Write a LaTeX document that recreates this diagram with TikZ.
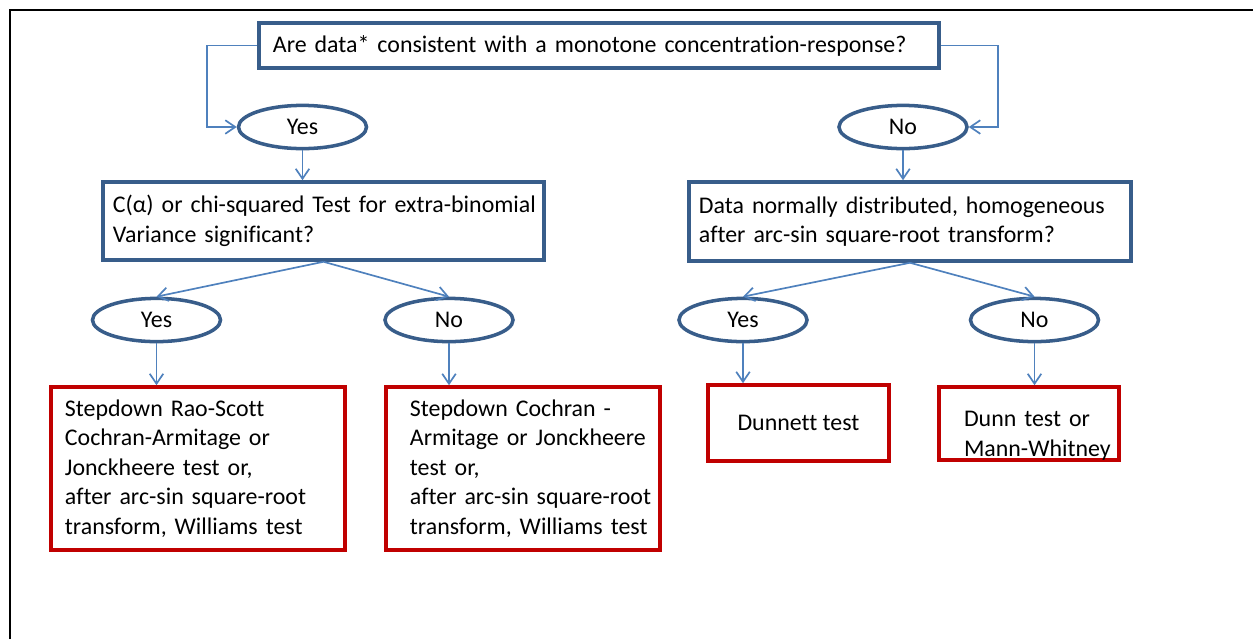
\documentclass[tikz,border=0pt]{standalone}
\usepackage{fontspec}
\setmainfont[Ligatures=NoCommon]{Carlito}
\definecolor{boxblue}{HTML}{385D8A}
\definecolor{lineblue}{HTML}{4F81BD}
\definecolor{resred}{HTML}{C00000}
\usetikzlibrary{arrows.meta,shapes.geometric}
\tikzset{
  txt/.style={font=\fontsize{17}{21}\selectfont},
  qbox/.style={txt,draw=boxblue,line width=2.5pt,align=left,inner xsep=0.25cm,inner ysep=0pt},
  oval/.style={txt,ellipse,draw=boxblue,line width=2.5pt,minimum width=3.2cm,
               minimum height=1.08cm,inner sep=0pt},
  res/.style={txt,draw=resred,line width=2.5pt,align=left,inner xsep=0.35cm,inner ysep=0pt},
  arr/.style={-{Straight Barb[length=2.5mm,width=3.4mm]},lineblue,line width=1.2pt},
  frame/.style={black,line width=1pt}
}
\newcommand{\ind}[1]{\hspace*{#1}}
\begin{document}
\begin{tikzpicture}[x=0.025cm,y=-0.025cm]
    \useasboundingbox (0,0) rectangle (1253,639);
    \draw[frame] (10,639) -- (10,10) -- (1253,10);
    \node[qbox,text width=16.3cm,minimum height=1.125cm,inner xsep=0.35cm] (q0) at (599,45.5)
          {Are data* consistent with a monotone concentration-response?};
    \node[oval] (y1) at (302.5,127) {Yes};
    \node[oval] (n1) at (903,127)   {No};
    \node[qbox,text width=10.725cm,minimum height=1.95cm,inner xsep=0.15cm] (q1) at (323.5,221)
          {\ind{0.1cm}C(α) or chi-squared Test for extra-binomial\\\ind{0.1cm}Variance significant?};
    \node[qbox,text width=10.55cm,minimum height=1.975cm] (q2) at (910,221.5)
          {Data normally distributed, homogeneous\\after arc-sin square-root transform?};
    \node[oval] (y2) at (156.5,320) {Yes};
    \node[oval] (n2) at (449,320)   {No};
    \node[oval] (y3) at (743,320)   {Yes};
    \node[oval] (n3) at (1034.5,320) {No};
    \node[res,text width=6.65cm,minimum height=4.075cm] (r1) at (198,468.5)
          {Stepdown Rao-Scott\\Cochran-Armitage or\\Jonckheere test or,\\after arc-sin square-root\\transform, Williams test};
    \node[res,text width=6.45cm,inner xsep=0.2cm,minimum height=4.075cm] (r2) at (523,468.5)
          {\ind{0.4cm}Stepdown Cochran -\\\ind{0.4cm}Armitage or Jonckheere\\\ind{0.4cm}test or,\\
           \ind{0.4cm}after arc-sin square-root\\\ind{0.4cm}transform, Williams test};
    \node[res,align=center,minimum width=4.525cm,minimum height=1.9cm] (r3) at (798.5,423)
          {Dunnett test};
    \node[res,text width=4.5cm,inner xsep=0pt,minimum height=1.825cm,text height=28pt] (r4) at (1029,423.5)
          {\ind{0.625cm}Dunn test or\\\ind{0.625cm}Mann-Whitney};
    \draw[arr] (q0.west) -- ++(-50,0) |- (y1.west);
    \draw[arr] (q0.east) -- ++(57,0) |- (n1.east);
    \draw[arr] (y1.south) -- (y1.south |- q1.north);
    \draw[arr] (n1.south) -- (n1.south |- q2.north);
    \draw[arr] (q1.south) -- (y2.north);
    \draw[arr] (q1.south) -- (n2.north);
    \draw[arr] (q2.south) -- (y3.north);
    \draw[arr] (q2.south) -- (n3.north);
    \draw[arr] (y2.south) -- (y2.south |- r1.north);
    \draw[arr] (n2.south) -- (n2.south |- r2.north);
    \draw[arr] (y3.south) -- (y3.south |- r3.north);
    \draw[arr] (n3.south) -- (n3.south |- r4.north);
  \end{tikzpicture}
\end{document}
